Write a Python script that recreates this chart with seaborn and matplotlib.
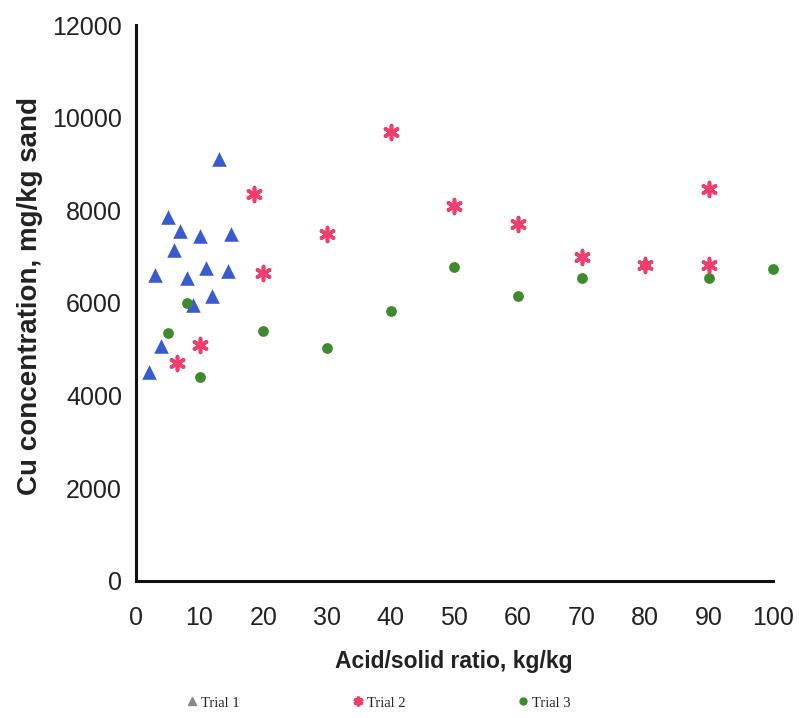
import matplotlib
matplotlib.use("Agg")
import matplotlib.pyplot as plt
import numpy as np
import pandas as pd
import seaborn as sns
from matplotlib.lines import Line2D

# Trial 1
trial1_ratio = [2, 3, 4, 5, 6, 7, 8, 9, 10, 11, 12, 13, 14.5, 15]
trial1_cu = [4520, 6600, 5080, 7850, 7150, 7550, 6550, 5950, 7450, 6750, 6150, 9100, 6700, 7500]

# Trial 2
trial2_ratio = [6.5, 10, 18.5, 20, 30, 40, 50, 60, 70, 80, 90, 90]
trial2_cu = [4700, 5100, 8350, 6650, 7500, 9700, 8100, 7700, 7000, 6820, 8470, 6820]

# Trial 3
trial3_ratio = [5, 8, 10, 20, 30, 40, 50, 60, 70, 80, 90, 100]
trial3_cu = [5350, 6000, 4400, 5400, 5030, 5820, 6770, 6150, 6540, 6820, 6540, 6730]

trial_labels = ["Trial 1", "Trial 2", "Trial 3"]
x_ticks = list(range(0, 101, 10))
y_ticks = list(range(0, 12001, 2000))

df1 = pd.DataFrame({"ratio": trial1_ratio, "cu": trial1_cu})
df2 = pd.DataFrame({"ratio": trial2_ratio, "cu": trial2_cu})
df3 = pd.DataFrame({"ratio": trial3_ratio, "cu": trial3_cu})

sns.set_style("white")
plt.rcParams["font.family"] = ["Liberation Sans", "DejaVu Sans"]

blue = "#3a5ad2"
red = "#f23c6c"
green = "#3e8a2e"
text_col = "#222222"

fig = plt.figure(figsize=(7.99, 7.18), dpi=100)
ax = fig.add_axes([0.170, 0.191, 0.797, 0.774])

sns.scatterplot(data=df1, x="ratio", y="cu", ax=ax, marker="^", color=blue,
                s=110, linewidth=0, clip_on=False, zorder=3)
sns.scatterplot(data=df3, x="ratio", y="cu", ax=ax, marker="o", color=green,
                s=60, linewidth=0, clip_on=False, zorder=3)
ax.scatter(df2["ratio"], df2["cu"], marker=(6, 2, 0), s=100, linewidths=2.6,
           color=red, clip_on=False, zorder=4)

ax.set_xlim(0, 100)
ax.set_ylim(0, 12000)
ax.set_xticks(x_ticks)
ax.set_yticks(y_ticks)
ax.tick_params(axis="both", direction="out", width=2, labelsize=18,
               colors=text_col)
ax.tick_params(axis="x", length=7, pad=11)
ax.tick_params(axis="y", length=6, pad=4)
for side in ("top", "right"):
    ax.spines[side].set_visible(False)
for side in ("left", "bottom"):
    ax.spines[side].set_linewidth(2.2)
    ax.spines[side].set_color("#111111")

ax.set_xlabel("Acid/solid ratio, kg/kg", fontsize=16.5, fontweight="bold",
              color=text_col)
ax.xaxis.set_label_coords(0.5, -0.125)
ax.set_ylabel("Cu concentration, mg/kg sand", fontsize=20, fontweight="bold",
              color=text_col)
ax.yaxis.set_label_coords(-0.146, 0.513)

handles = [
    Line2D([], [], linestyle="none", marker="^", markersize=6, color="#888888"),
    Line2D([], [], linestyle="none", marker=(6, 2, 0), markersize=7,
           markeredgewidth=2.4, color=red),
    Line2D([], [], linestyle="none", marker="o", markersize=5, color=green),
]
fig.legend(handles, trial_labels, loc="center", bbox_to_anchor=(0.473, 0.021),
           ncol=3, frameon=False, columnspacing=7.6, handletextpad=0.1,
           handlelength=1.0,
           prop={"family": ["Liberation Serif", "DejaVu Serif"], "size": 10.5})

fig.savefig("out.png", dpi=100)
